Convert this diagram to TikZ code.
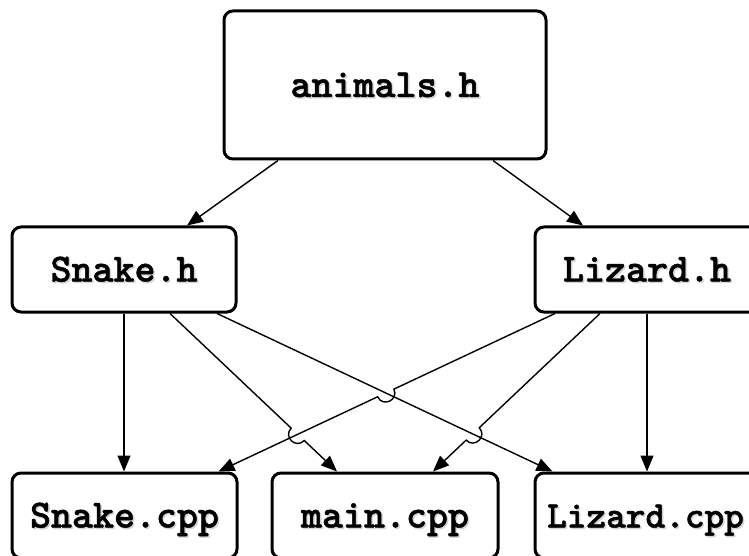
\documentclass[tikz,border=0pt]{standalone}
\usepackage{fontspec}
\newfontfamily\codefont{lmmonolt10-bold.otf}[FakeBold=1.2]
\usetikzlibrary{arrows.meta,calc,intersections}

% Straight connector #1 -> #2 that hops over another line at crossing #3;
% #4 and #5 give the side of the hop.
\newcommand\hopline[5]{%
  \coordinate (hpa) at ($(#3)!9pt!(#1)$);
  \coordinate (hpb) at ($(#3)!9pt!(#2)$);
  \draw[conn] (#1) -- (hpa)
    .. controls ($(hpa)!12pt!#4:(hpb)$) and ($(hpb)!12pt!#5:(hpa)$) .. (hpb)
    -- (#2);
}
% file name with a faint drop shadow behind it
\newcommand\shtext[1]{\rlap{\kern1.5pt\raisebox{-1.5pt}{\color{black!16}#1}}#1}

\begin{document}
\begin{tikzpicture}[x=1pt,y=1pt,
  filebox/.style={draw=black, line width=3pt, rounded corners=9pt, fill=white, inner sep=0pt},
  conn/.style={draw=black, line width=1.4pt, -{Triangle[length=16pt,width=13pt]}},
  fname/.style={text=black, anchor=base, inner sep=0pt, yshift=-12pt}
]
\useasboundingbox (0,0) rectangle (749,555);

% file boxes
\node[filebox, minimum width=322pt, minimum height=148pt] (an) at (385,470) {};
\node[filebox, minimum width=224pt, minimum height=85pt] (sh) at (124,285.5) {};
\node[filebox, minimum width=224pt, minimum height=85pt] (lh) at (647,285.5) {};
\node[filebox, minimum width=225pt, minimum height=85pt] (sc) at (124.5,39.5) {};
\node[filebox, minimum width=226pt, minimum height=85pt] (mc) at (385,39.5) {};
\node[filebox, minimum width=225pt, minimum height=85pt] (lc) at (647.5,39.5) {};

% file names: box / text / font size / horizontal offset
\foreach \n/\t/\s/\dx in {an/animals.h/40/0, sh/Snake.h/40/0, lh/Lizard.h/40/0,
                          sc/Snake.cpp/40/0, mc/main.cpp/40/0, lc/Lizard.cpp/37.5/-2}{
  \node[fname, font=\fontsize{\s}{44}\selectfont\codefont, xshift=\dx pt] (\n-t) at (\n.center) {\shtext{\t}};
}

% header includes
\draw[conn] ([xshift=-107pt]an.south) -- ([xshift=63pt]sh.north);
\draw[conn] ([xshift=108pt]an.south) -- ([xshift=-64pt]lh.north);

% end points of the crossing connectors
\coordinate (sMa) at ([xshift=46pt]sh.south);  \coordinate (sMb) at ([xshift=-48pt]mc.north);
\coordinate (sLa) at ([xshift=93pt]sh.south);  \coordinate (sLb) at ([xshift=-95pt]lc.north);
\coordinate (lSa) at ([xshift=-92pt]lh.south); \coordinate (lSb) at ([xshift=94pt]sc.north);
\coordinate (lMa) at ([xshift=-47pt]lh.south); \coordinate (lMb) at ([xshift=48pt]mc.north);

\path[name path=pSM] (sMa) -- (sMb);
\path[name path=pSL] (sLa) -- (sLb);
\path[name path=pLS] (lSa) -- (lSb);
\path[name path=pLM] (lMa) -- (lMb);
\path[name intersections={of=pLS and pSL, by=xA}];
\path[name intersections={of=pSM and pLS, by=xB}];
\path[name intersections={of=pLM and pSL, by=xC}];

% straight down
\draw[conn] (sh.south) -- (sh.south |- sc.north);
\draw[conn] (lh.south) -- (lh.south |- lc.north);

% diagonals
\draw[conn] (sLa) -- (sLb);
\hopline{lSa}{lSb}{xA}{90}{-90}
\hopline{sMa}{sMb}{xB}{-90}{90}
\hopline{lMa}{lMb}{xC}{90}{-90}
\end{tikzpicture}
\end{document}
